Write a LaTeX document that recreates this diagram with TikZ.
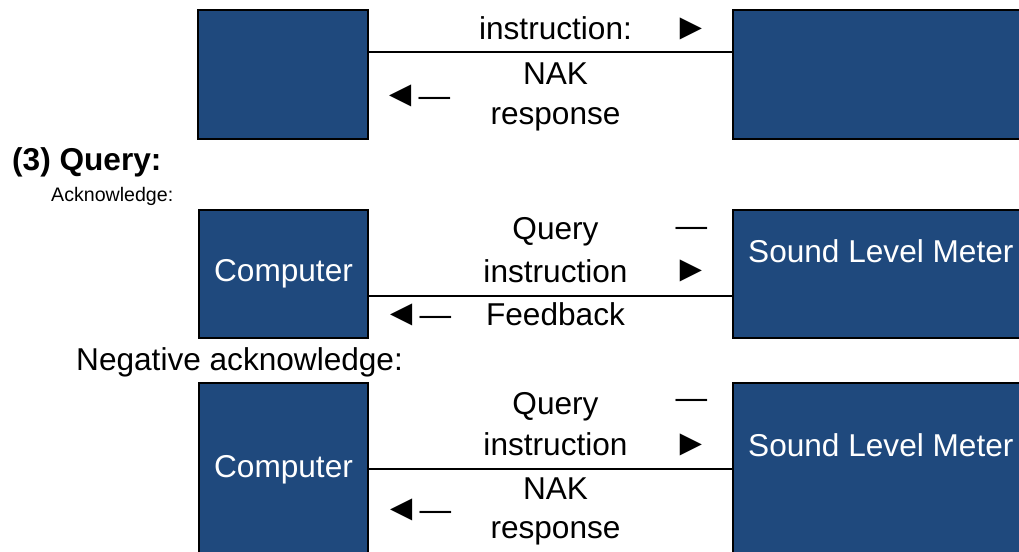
\documentclass[tikz,border=0pt]{standalone}
\usepackage{fontspec}
\setmainfont{Liberation Sans}
\definecolor{boxblue}{HTML}{1F497D}
\newcommand{\bigtri}[1]{{\fontsize{37}{38}\selectfont #1}}
\begin{document}
\begin{tikzpicture}[x=1pt,y=-1pt,
  box/.style={draw=black,line width=2.6pt,fill=boxblue,inner sep=0pt,outer sep=0pt,text=white,font=\fontsize{31.6}{38}\selectfont},
  link/.style={draw=black,line width=2pt},
  txt/.style={font=\fontsize{31.6}{38}\selectfont,inner sep=0pt,anchor=base},
  arr/.style={font=\fontsize{31.6}{38}\selectfont,inner sep=0pt,anchor=center},
  head/.style={font=\fontsize{31.6}{38}\selectfont\bfseries,inner sep=0pt,anchor=base west},
  lefttxt/.style={font=\fontsize{31.6}{38}\selectfont,inner sep=0pt,anchor=base west},
  small/.style={font=\fontsize{19.6}{24}\selectfont,inner sep=0pt,anchor=base west},
]
\useasboundingbox (0,0) rectangle (1019,551);
\clip (0,0) rectangle (1019,551);

% ---- section 1 (partial) ----
\node[box,minimum width=170pt,minimum height=129pt] (c1) at (283,74.5) {};
\node[box,minimum width=320pt,minimum height=129pt] (m1) at (893,74.5) {};
\coordinate (l1) at (0,52);
\draw[link] (c1.east |- l1) -- (m1.west |- l1);
\node[txt] (t1a) at (555.5,40) {instruction:};
\node[arr] (a1r) at (691,29) {\bigtri{►}};
\node[txt] (t1b) at (555.5,84) {NAK};
\node[txt] (t1c) at (555.5,124) {response};
\node[arr] (a1l) at (416,96) {\bigtri{◄}—};

% ---- section 2 ----
\node[head] (h3) at (12,170) {(3) Query:};
\node[small] (ack) at (51,201) {Acknowledge:};
\node[box,minimum width=169pt,minimum height=128pt] (c2) at (283.5,274) {Computer};
\node[box,minimum width=320pt,minimum height=128pt] (m2) at (893,274) {};
\node[lefttxt,text=white] (m2t) at (748,262) {Sound Level Meter};
\coordinate (l2) at (0,296);
\draw[link] (c2.east |- l2) -- (m2.west |- l2);
\node[txt] (t2a) at (555.5,239) {Query};
\node[txt] (t2b) at (555.5,282) {instruction};
\node[txt] (t2c) at (555.5,325) {Feedback};
\node[arr] (d2) at (691.5,232) {—};
\node[arr] (a2r) at (691,271) {\bigtri{►}};
\node[arr] (a2l) at (417,315) {\bigtri{◄}—};

% ---- section 3 ----
\node[lefttxt] (nak) at (76,370) {Negative acknowledge:};
\node[box,minimum width=169pt,minimum height=174pt] (c3) at (283.5,470) {Computer};
\node[box,minimum width=320pt,minimum height=174pt] (m3) at (893,470) {};
\node[lefttxt,text=white] (m3t) at (748,456) {Sound Level Meter};
\coordinate (l3) at (0,469);
\draw[link] (c3.east |- l3) -- (m3.west |- l3);
\node[txt] (t3a) at (555.5,414) {Query};
\node[txt] (t3b) at (555.5,455) {instruction};
\node[txt] (t3c) at (555.5,499) {NAK};
\node[txt] (t3d) at (555.5,538) {response};
\node[arr] (d3) at (691.5,404) {—};
\node[arr] (a3r) at (691,445) {\bigtri{►}};
\node[arr] (a3l) at (417,510) {\bigtri{◄}—};
\end{tikzpicture}
\end{document}
